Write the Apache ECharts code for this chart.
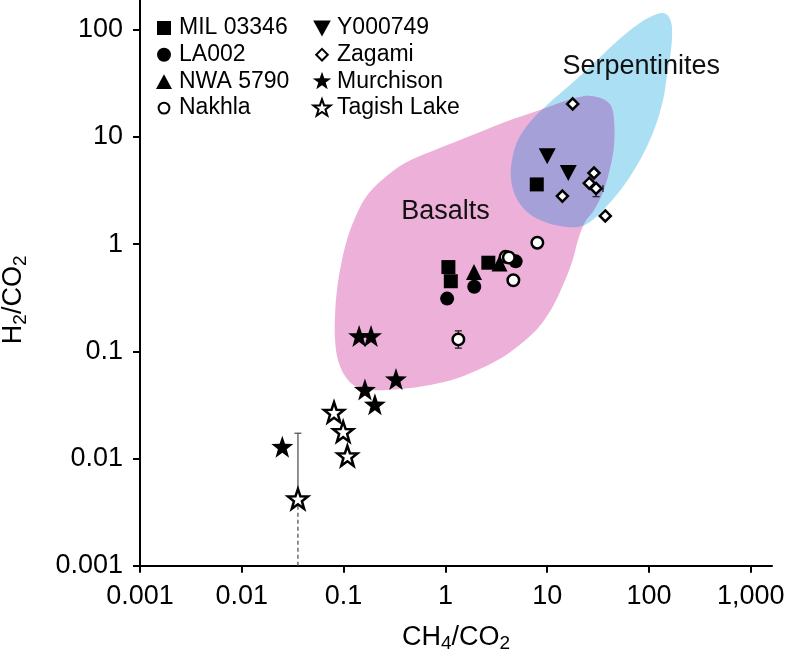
<!DOCTYPE html>
<html><head><meta charset="utf-8">
<script src="https://cdn.jsdelivr.net/npm/echarts@6/dist/echarts.min.js"></script>
<style>html,body{margin:0;padding:0;background:#fff}#c{width:788px;height:660px}</style>
</head><body><div id="c"></div>
<script>
// ---- data ----
const xTicks = [0.001, 0.01, 0.1, 1, 10, 100, 1000];
const xTickLabels = ['0.001', '0.01', '0.1', '1', '10', '100', '1,000'];
const yTicks = [0.001, 0.01, 0.1, 1, 10, 100];
const yTickLabels = ['0.001', '0.01', '0.1', '1', '10', '100'];

const mil03346 = [[1.07, 0.61], [1.13, 0.45], [2.64, 0.67], [7.9, 3.6]];
const la002 = [[1.04, 0.31], [1.92, 0.40], [4.9, 0.69]];
const nwa5790 = [[1.91, 0.55], [3.4, 0.66]];
const nakhla = [[8.0, 1.03], [4.65, 0.46], [1.34, 0.129], [3.9, 0.76], [4.2, 0.75]];
const y000749 = [[10.0, 6.6], [16.1, 4.6]];
const zagami = [[17.8, 20.3], [28.8, 4.6], [25.9, 3.7], [30.2, 3.3], [14.1, 2.8], [37.2, 1.83]];
const murchison = [[0.142, 0.139], [0.186, 0.139], [0.327, 0.055], [0.162, 0.044], [0.203, 0.032], [0.025, 0.0129]];
const tagishLake = [[0.0805, 0.027], [0.099, 0.0178], [0.109, 0.0106], [0.0356, 0.0042]];

// error bars: [x, yLow, yHigh]  and  [y, xLow, xHigh]
const errBarsV = [[0.0356, 0.0042, 0.0172], [1.34, 0.107, 0.155], [30.2, 2.77, 3.3]];
const errBarsH = [[3.3, 30.2, 35.3]];
const dashedLimit = [[0.0356, 0.001, 0.0042]];

// field outlines, as log10 exponents [log10(CH4/CO2), log10(H2/CO2)]
const basaltsOutlineLog = [[1.420,1.382],[1.548,1.354],[1.627,1.288],[1.656,1.158],[1.656,0.924],[1.617,0.710],[1.548,0.486],[1.460,0.318],[1.371,0.206],[1.303,0.038],[1.244,-0.167],[1.155,-0.382],[1.047,-0.596],[0.910,-0.783],[0.752,-0.923],[0.566,-1.053],[0.360,-1.156],[0.124,-1.249],[-0.151,-1.314],[-0.446,-1.352],[-0.741,-1.361],[-0.888,-1.324],[-0.986,-1.230],[-1.055,-1.081],[-1.084,-0.895],[-1.084,-0.661],[-1.065,-0.428],[-1.026,-0.195],[-0.967,0.038],[-0.888,0.243],[-0.780,0.439],[-0.623,0.598],[-0.397,0.757],[-0.102,0.878],[0.242,1.008],[0.585,1.139],[0.929,1.251],[1.175,1.335],[1.322,1.372]];
const serpOutlineLog = [[2.138,2.156],[2.196,2.118],[2.226,2.016],[2.216,1.811],[2.177,1.577],[2.138,1.344],[2.049,1.064],[1.912,0.785],[1.735,0.523],[1.568,0.337],[1.420,0.206],[1.303,0.160],[1.126,0.169],[0.929,0.225],[0.782,0.318],[0.684,0.458],[0.644,0.617],[0.654,0.785],[0.713,0.971],[0.831,1.139],[1.008,1.307],[1.224,1.484],[1.440,1.671],[1.666,1.876],[1.882,2.044],[2.029,2.128]];
const fieldLabels = [{text: 'Basalts', at: [1.0, 2.0]}, {text: 'Serpentinites', at: [84, 45.5]}];

// ---- chart ----
const FONT = 'Liberation Sans, Arial, Helvetica, sans-serif';
const STAR = 'path://M50,0 L61.76,33.82 L97.55,34.55 L69.02,56.18 L79.39,90.45 L50,70 L20.61,90.45 L30.98,56.18 L2.45,34.55 L38.24,33.82 Z';
const DOWN_TRI = 'path://M0,0 L20,0 L10,18 Z';
const ICON = {
  rect: 'path://M0,0 M100,100 M15,15 L85,15 L85,85 L15,85 Z',
  circle: 'path://M0,0 M100,100 M50,15 A35,35 0 1 1 50,85 A35,35 0 1 1 50,15 Z',
  triangle: 'path://M0,0 M100,100 M50,14 L90,88 L10,88 Z',
  openCircle: 'path://M0,0 M100,100 M50,23 A27,27 0 1 1 50,77 A27,27 0 1 1 50,23 Z',
  downTri: 'path://M0,0 M100,100 M6,12 L94,12 L50,92 Z',
  diamond: 'path://M0,0 M100,100 M50,21 L79,50 L50,79 L21,50 Z',
  star: 'path://M0,0 M100,100 M50,2 L61.5,34.5 L96,35.3 L68.5,56 L78.5,89 L50,69.5 L21.5,89 L31.5,56 L4,35.3 L38.5,34.5 Z',
  openStar: 'path://M0,0 M100,100 M50,6 L60.8,36.6 L93,37.3 L67.3,56.8 L76.7,87.6 L50,69.3 L23.3,87.6 L32.7,56.8 L7,37.3 L39.2,36.6 Z'
};
const black = {color: '#000', opacity: 1};
const open = {color: '#fff', borderColor: '#000', borderWidth: 2.5, opacity: 1};

function sc(name, data, symbol, size, style, extra) {
  return Object.assign({type: 'scatter', name, data, symbol, symbolSize: size, itemStyle: style, z: 5,
    emphasis: {disabled: true}}, extra || {});
}

const chart = echarts.init(document.getElementById('c'), null, {renderer: 'canvas'});
const legendCommon = {orient: 'vertical', top: 11, itemWidth: 20, itemHeight: 20, itemGap: 2.7, selectedMode: false,
  symbolKeepAspect: true,
  textStyle: {fontSize: 23, color: '#000', fontFamily: FONT, lineHeight: 24}};
const nameRich = {
  a: {fontSize: 27, fontFamily: FONT, color: '#000', lineHeight: 30, verticalAlign: 'top'},
  s: {fontSize: 19, fontFamily: FONT, color: '#000', lineHeight: 19, verticalAlign: 'bottom'}
};

chart.setOption({
  animation: false,
  backgroundColor: '#fff',
  grid: {left: 140, right: 16, top: 0, bottom: 94.3, containLabel: false, outerBoundsMode: 'none'},
  legend: [
    Object.assign({left: 148, data: [
      {name: 'MIL 03346', icon: ICON.rect}, {name: 'LA002', icon: ICON.circle},
      {name: 'NWA 5790', icon: ICON.triangle}, {name: 'Nakhla', icon: ICON.openCircle}]}, legendCommon),
    Object.assign({left: 306, data: [
      {name: 'Y000749', icon: ICON.downTri}, {name: 'Zagami', icon: ICON.diamond},
      {name: 'Murchison', icon: ICON.star}, {name: 'Tagish Lake', icon: ICON.openStar}]}, legendCommon)
  ],
  xAxis: {
    type: 'log', logBase: 10, min: 0.001, max: 1615,
    axisLine: {show: true, onZero: false, lineStyle: {color: '#000', width: 2}},
    axisTick: {show: true, inside: false, length: 7, lineStyle: {color: '#000', width: 2}, customValues: xTicks},
    axisLabel: {fontSize: 27, color: '#000', fontFamily: FONT, margin: 17, customValues: xTicks,
      formatter: v => xTickLabels[xTicks.findIndex(t => Math.abs(Math.log10(t) - Math.log10(v)) < 1e-6)] || ''},
    splitLine: {show: false}, minorTick: {show: false},
    name: '{a|CH}{s|4}{a|/CO}{s|2}', nameLocation: 'middle', nameGap: 58,
    nameTextStyle: {rich: nameRich}
  },
  yAxis: {
    type: 'log', logBase: 10, min: 0.001, max: 189,
    axisLine: {show: true, onZero: false, lineStyle: {color: '#000', width: 2}},
    axisTick: {show: true, inside: false, length: 7, lineStyle: {color: '#000', width: 2}, customValues: yTicks},
    axisLabel: {fontSize: 27, color: '#000', fontFamily: FONT, margin: 17, customValues: yTicks,
      formatter: v => yTickLabels[yTicks.findIndex(t => Math.abs(Math.log10(t) - Math.log10(v)) < 1e-6)] || ''},
    splitLine: {show: false}, minorTick: {show: false},
    name: '{a|H}{s|2}{a|/CO}{s|2}', nameLocation: 'middle', nameGap: 110, nameRotate: 90,
    nameTextStyle: {rich: nameRich, padding: [0, 34, 0, 0]}
  },
  series: [
    {
      type: 'custom', name: 'fields', coordinateSystem: 'cartesian2d', clip: false, silent: true, z: 1,
      data: [[1, 1]],
      renderItem: function (params, api) {
        const pts = arr => arr.map(p => api.coord([Math.pow(10, p[0]), Math.pow(10, p[1])]));
        const blue = pts(serpOutlineLog), pink = pts(basaltsOutlineLog);
        const children = [
          {type: 'polygon', shape: {points: blue, smooth: 0.35}, style: {fill: '#aadff4'}},
          {type: 'polygon', shape: {points: pink, smooth: 0.35}, style: {fill: '#ecb0d9'}},
          {type: 'polygon', shape: {points: pink, smooth: 0.35}, style: {fill: '#a5a0d7'},
            clipPath: {type: 'polygon', shape: {points: blue, smooth: 0.35}}}
        ];
        fieldLabels.forEach(l => {
          const c = api.coord(l.at);
          children.push({type: 'text', x: c[0], y: c[1], style: {text: l.text, fontSize: 27, fontFamily: FONT,
            fill: '#111', align: 'center', verticalAlign: 'middle'}});
        });
        return {type: 'group', children};
      }
    },
    {
      type: 'custom', name: 'errV', coordinateSystem: 'cartesian2d', clip: false, silent: true, z: 4,
      data: errBarsV, encode: {x: 0, y: [1, 2]},
      renderItem: function (params, api) {
        const a = api.coord([api.value(0), api.value(1)]), b = api.coord([api.value(0), api.value(2)]);
        const st = {stroke: params.dataIndex === 0 ? '#555' : '#222', lineWidth: 1.3};
        const w = 3.5;
        return {type: 'group', children: [
          {type: 'line', shape: {x1: a[0], y1: a[1], x2: b[0], y2: b[1]}, style: st},
          {type: 'line', shape: {x1: b[0] - w, y1: b[1], x2: b[0] + w, y2: b[1]}, style: st},
          {type: 'line', shape: {x1: a[0] - w, y1: a[1], x2: a[0] + w, y2: a[1]}, style: st}
        ]};
      }
    },
    {
      type: 'custom', name: 'errH', coordinateSystem: 'cartesian2d', clip: false, silent: true, z: 4,
      data: errBarsH, encode: {y: 0, x: [1, 2]},
      renderItem: function (params, api) {
        const a = api.coord([api.value(1), api.value(0)]), b = api.coord([api.value(2), api.value(0)]);
        const st = {stroke: '#222', lineWidth: 1.3};
        return {type: 'group', children: [
          {type: 'line', shape: {x1: a[0], y1: a[1], x2: b[0], y2: b[1]}, style: st},
          {type: 'line', shape: {x1: b[0], y1: b[1] - 3.5, x2: b[0], y2: b[1] + 3.5}, style: st}
        ]};
      }
    },
    {
      type: 'custom', name: 'dashed', coordinateSystem: 'cartesian2d', clip: false, silent: true, z: 4,
      data: dashedLimit, encode: {x: 0, y: [1, 2]},
      renderItem: function (params, api) {
        const a = api.coord([api.value(0), api.value(1)]), b = api.coord([api.value(0), api.value(2)]);
        return {type: 'line', shape: {x1: a[0], y1: a[1], x2: b[0], y2: b[1]},
          style: {stroke: '#555', lineWidth: 1.3, lineDash: [4, 3]}};
      }
    },
    sc('MIL 03346', mil03346, 'rect', 14, black),
    sc('LA002', la002, 'circle', 14, black),
    sc('NWA 5790', nwa5790, 'triangle', 16, black),
    sc('Nakhla', nakhla, 'circle', 11.5, open),
    sc('Y000749', y000749, DOWN_TRI, [17, 16], black),
    sc('Zagami', zagami, 'diamond', 11, open),
    sc('Murchison', murchison, STAR, 22, black),
    sc('Tagish Lake', tagishLake, STAR, 20, open)
  ]
});
</script>
</body></html>
